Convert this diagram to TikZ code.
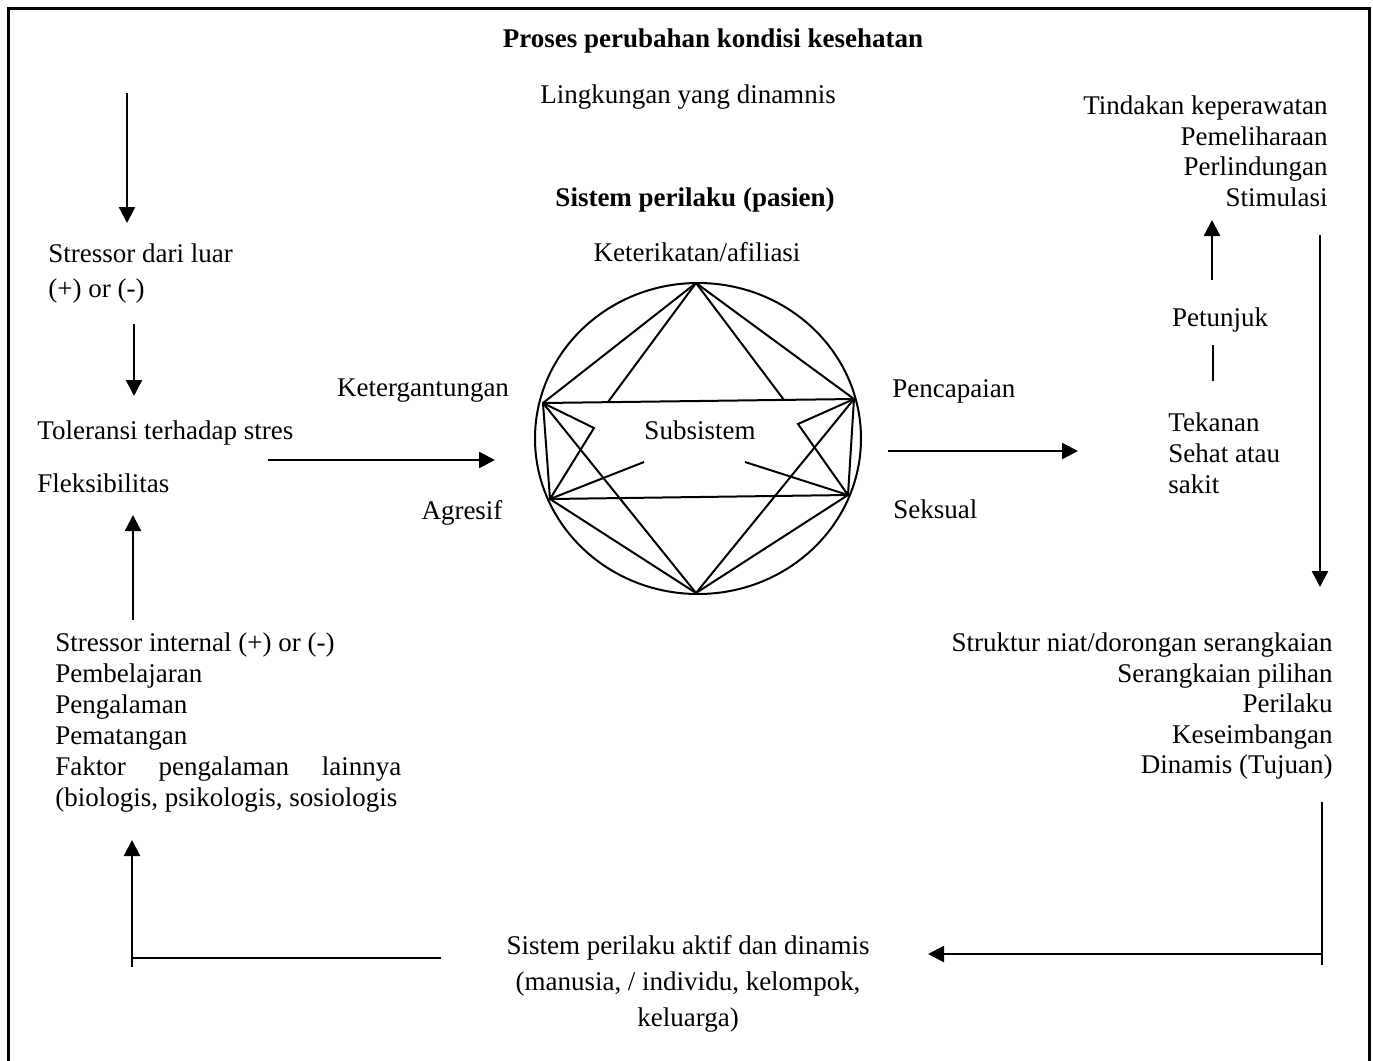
\documentclass[tikz,border=0pt]{standalone}
\usepackage{fontspec}
\setmainfont{Liberation Serif}
\usetikzlibrary{positioning, arrows.meta, calc}

\begin{document}
\begin{tikzpicture}[x=0.5pt, y=-0.5pt,
    txt/.style={inner sep=0pt, font=\fontsize{13.5}{15.5}\selectfont},
    fleche/.style={line width=1.2pt, -{Triangle[width=8pt,length=8pt]}},
    trait/.style={line width=1.2pt},
    hexa/.style={line width=1pt}]
    \useasboundingbox (0,0) rectangle (1373,1061);
    % Cadre
    \draw[line width=1.5pt] (8,1090) -- (8,8) -- (1369,8) -- (1369,1090);

    % Titres
    \node[txt, font=\fontsize{13.5}{15.5}\selectfont\bfseries, anchor=base] (titre) at (713,47) {Proses perubahan kondisi kesehatan};
    \node[txt, anchor=base] (lingkungan) at (688,103) {Lingkungan yang dinamnis};
    \node[txt, font=\fontsize{13.5}{15.5}\selectfont\bfseries, anchor=base] (sistem) at (695,206) {Sistem perilaku (pasien)};

    % Colonne gauche
    \node[txt, align=left, anchor=north west, font=\fontsize{13.5}{17.5}\selectfont] (luar) at (48,243.5) {Stressor dari luar\\(+) or (-)};
    \node[txt, anchor=base west] (toleransi) at (37,439) {Toleransi terhadap stres};
    \node[txt, anchor=base west] (fleks) at (37,492) {Fleksibilitas};
    \node[txt, align=left, anchor=north west] (internal) at (55,632.5) {Stressor internal (+) or (-)\\Pembelajaran\\Pengalaman\\Pematangan\\\hbox to 173pt{Faktor\hfill pengalaman\hfill lainnya}\\(biologis, psikologis, sosiologis};

    % Sous-systemes autour du cercle
    \node[txt, anchor=base] (keterikatan) at (697,261) {Keterikatan/afiliasi};
    \node[txt, anchor=base] (ketergantungan) at (423,396) {Ketergantungan};
    \node[txt, anchor=base] (agresif) at (462,519) {Agresif};
    \node[txt, anchor=base west] (pencapaian) at (892,397) {Pencapaian};
    \node[txt, anchor=base west] (seksual) at (893,518) {Seksual};
    \node[txt, anchor=base] (subsistem) at (700,439) {Subsistem};

    % Colonne droite
    \node[txt, align=right, anchor=north east, font=\fontsize{13.5}{15.25}\selectfont] (tindakan) at (1328,95.5) {Tindakan keperawatan\\Pemeliharaan\\Perlindungan\\Stimulasi};
    \node[txt, anchor=base] (petunjuk) at (1220,326) {Petunjuk};
    \node[txt, align=left, anchor=north west] (tekanan) at (1168,412.5) {Tekanan\\Sehat atau\\sakit};
    \node[txt, align=right, anchor=north east, font=\fontsize{13.5}{15.25}\selectfont] (struktur) at (1333,632.5) {Struktur niat/dorongan serangkaian\\Serangkaian pilihan\\Perilaku\\Keseimbangan\\Dinamis (Tujuan)};

    % Bas
    \node[txt, align=center, anchor=north, font=\fontsize{13.5}{18}\selectfont] (aktif) at (688,935.5) {Sistem perilaku aktif dan dinamis\\(manusia, / individu, kelompok,\\keluarga)};

    % Cercle et etoile
    \coordinate (centre) at (698,438.5);
    \draw[hexa] (centre) ellipse [x radius=163, y radius=155.5];
    \coordinate (H) at (696,283);
    \coordinate (Bs) at (696,593);
    \coordinate (G1) at (543,403);
    \coordinate (G2) at (550,499);
    \coordinate (D1) at (854,399);
    \coordinate (D2) at (848,495);
    \coordinate (g1) at (608,402);
    \coordinate (d1) at (784,400);
    \coordinate (g2) at (594,428);
    \coordinate (d2) at (798,424);
    \coordinate (g3) at (644,462);
    \coordinate (d3) at (745,462);
    \draw[hexa] (G1) -- (H) -- (D1) -- (D2) -- (Bs) -- (G2) -- cycle;
    \draw[hexa] (G1) -- (D1) (G2) -- (D2);
    \draw[hexa] (H) -- (g1) (H) -- (d1);
    \draw[hexa] (G1) -- (Bs) -- (D1);
    \draw[hexa] (G1) -- (g2) -- (G2) -- (g3);
    \draw[hexa] (D1) -- (d2) -- (D2) -- (d3);

    % Fleches
    \coordinate (luarA) at (127,93);   \coordinate (luarB) at (127,223);
    \coordinate (tolA) at (134,324);   \coordinate (tolB) at (134,396);
    \coordinate (intA) at (133,620);   \coordinate (intB) at (133,515);
    \coordinate (versA) at (268,460);  \coordinate (versB) at (495,460);
    \coordinate (sortA) at (888,451);  \coordinate (sortB) at (1078,451);
    \coordinate (petA) at (1212,280);  \coordinate (petB) at (1212,220);
    \coordinate (tekA) at (1213,345);  \coordinate (tekB) at (1213,381);
    \coordinate (droitA) at (1320,235); \coordinate (droitB) at (1320,587);
    \coordinate (basD1) at (1322,802); \coordinate (basD2) at (1322,965);
    \coordinate (basD) at (1322,954);  \coordinate (basDB) at (928,954);
    \coordinate (basG) at (441,958);   \coordinate (basGC) at (132,958);
    \coordinate (basG1) at (132,967);  \coordinate (basG2) at (132,840);

    \draw[fleche] (luarA) -- (luarB);
    \draw[fleche] (tolA) -- (tolB);
    \draw[fleche] (intA) -- (intB);
    \draw[fleche] (versA) -- (versB);
    \draw[fleche] (sortA) -- (sortB);
    \draw[fleche] (petA) -- (petB);
    \draw[trait] (tekA) -- (tekB);
    \draw[fleche] (droitA) -- (droitB);
    \draw[trait] (basD1) -- (basD2);
    \draw[fleche] (basD) -- (basDB);
    \draw[trait] (basG) -- (basGC);
    \draw[fleche] (basG1) -- (basG2);
\end{tikzpicture}
\end{document}
